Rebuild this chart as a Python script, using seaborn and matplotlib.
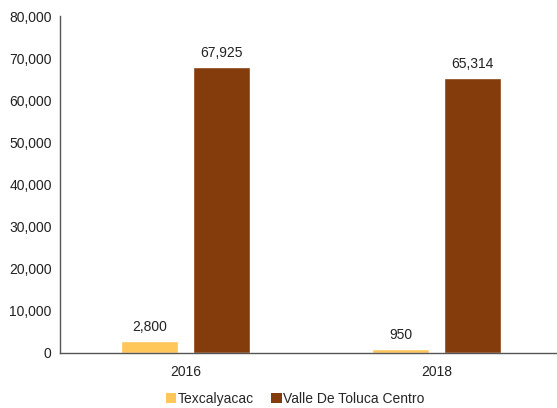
import matplotlib
matplotlib.use("Agg")
import matplotlib.pyplot as plt
import seaborn as sns
import pandas as pd
from matplotlib.patches import Patch
from matplotlib.ticker import FuncFormatter

years = ["2016", "2018"]
series_names = ["Texcalyacac", "Valle De Toluca Centro"]
texcalyacac = [2800, 950]
valle = [67925, 65314]
colors = ["#FFC75A", "#843C0C"]

df = pd.DataFrame({
    "year": years * 2,
    "series": [series_names[0]] * 2 + [series_names[1]] * 2,
    "value": texcalyacac + valle,
})

sns.set_theme(style="white")
plt.rcParams["font.family"] = ["Liberation Sans", "DejaVu Sans"]

fig = plt.figure(figsize=(5.57, 4.08), dpi=100)
ax = fig.add_axes([60 / 557, 1 - 353 / 408, 502 / 557, (353 - 16) / 408])

sns.barplot(data=df, x="year", y="value", hue="series", palette=colors,
            width=0.57, gap=0.2, ax=ax, legend=False, saturation=1)

fs = 10
ax.set_ylim(0, 80000)
ax.set_xlim(-0.5, 1.5)
ax.set_yticks(range(0, 80001, 10000))
ax.yaxis.set_major_formatter(FuncFormatter(lambda v, p: f"{int(v):,}"))
ax.tick_params(axis="both", length=0, labelsize=fs, colors="#222222", pad=6)
ax.tick_params(axis="x", pad=9)
ax.set_xlabel("")
ax.set_ylabel("")
for s in ["top", "right"]:
    ax.spines[s].set_visible(False)
for s in ["left", "bottom"]:
    ax.spines[s].set_color("#555555")
    ax.spines[s].set_linewidth(1.0)

for cont in ax.containers:
    ax.bar_label(cont, labels=[f"{int(v):,}" for v in cont.datavalues],
                 padding=5, fontsize=fs, color="#222222")

handles = [Patch(facecolor=c, edgecolor="none") for c in colors]
fig.legend(handles, series_names, loc="center left", bbox_to_anchor=(153 / 557, 1 - 399 / 408),
           ncol=2, frameon=False, fontsize=fs, handlelength=0.75, handleheight=0.75,
           handletextpad=0.1, columnspacing=1.3)

fig.savefig("out.png", dpi=100)
